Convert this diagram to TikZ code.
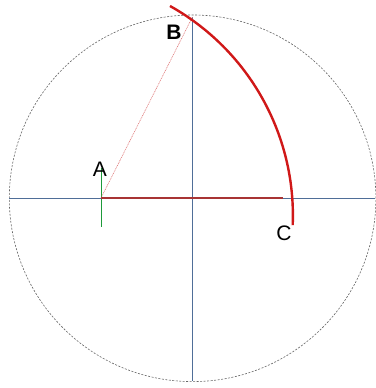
\documentclass[tikz,border=0pt]{standalone}
\usepackage{fontspec}
\setmainfont{Liberation Sans}
\begin{document}
\begin{tikzpicture}[x=1pt,y=1pt,
  axis/.style={draw=axisblue,line width=0.9pt},
  rim/.style={draw=gray!80!black,line width=0.6pt,dash pattern=on 2pt off 1.5pt},
  lbl/.style={font=\fontsize{21}{21}\selectfont,inner sep=0pt}]
\definecolor{axisblue}{HTML}{4F6E98}
\definecolor{arcred}{HTML}{D01818}
\definecolor{basered}{HTML}{A83434}
\definecolor{guidered}{HTML}{E07878}
\definecolor{greenline}{HTML}{1E9A3A}
\useasboundingbox (0,0) rectangle (375,388);
\fill[white] (0,0) rectangle (375,388);
% points
\coordinate (O) at (192.6,189.7);
\coordinate (A) at (101,190);
\coordinate (L) at (9.3,190);
\coordinate (R) at (375,190);
\coordinate (T) at (192.6,371.3);
\coordinate (Bt) at (192.6,6.5);
\coordinate (G1) at (101,220);
\coordinate (G2) at (101,161);
\coordinate (E) at (283,190);
\coordinate (K) at (52.9,172.5);
% circle
\draw[rim] (O) circle[radius=183.3];
% axes
\draw[axis] (L) -- (R);
\draw[axis] (T) -- (Bt);
% green tick
\draw[greenline,line width=1pt] (G1) -- (G2);
% guide A-B
\draw[guidered,line width=0.6pt,dash pattern=on 1pt off 0.8pt] (A) -- (T);
% base line
\draw[basered,line width=1.8pt] (A) -- (E);
% arc
\draw[arcred,line width=2.4pt] (K) ++(60.8:240) arc[start angle=60.8,end angle=-2.3,radius=240];
% labels
\node[lbl] (la) at (100,219) {A};
\node[lbl,font=\fontsize{21}{21}\selectfont\bfseries] (lb) at (174,355.5) {B};
\node[lbl] (lc) at (284,154.5) {C};
\end{tikzpicture}
\end{document}
